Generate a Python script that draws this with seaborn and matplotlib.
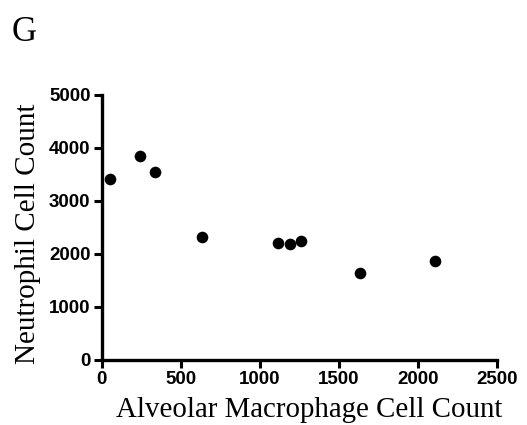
import matplotlib
matplotlib.use("Agg")
import matplotlib.pyplot as plt
import seaborn as sns
import pandas as pd

macrophage = [53, 243, 337, 637, 1113, 1194, 1259, 1637, 2112]
neutrophil = [3420, 3840, 3555, 2315, 2210, 2185, 2250, 1635, 1870]
x_ticks = [0, 500, 1000, 1500, 2000, 2500]
y_ticks = [0, 1000, 2000, 3000, 4000, 5000]

df = pd.DataFrame({"mac": macrophage, "neu": neutrophil})

sns.set_style("ticks")
plt.rcParams['font.family'] = ['Liberation Sans', 'DejaVu Sans']
plt.rcParams['text.color'] = 'black'
plt.rcParams['axes.labelcolor'] = 'black'
plt.rcParams['xtick.color'] = 'black'
plt.rcParams['ytick.color'] = 'black'

fig = plt.figure(figsize=(5.27, 4.25), dpi=100)
ax = fig.add_axes([0.193, 0.153, 0.7495, 0.6235])
sns.scatterplot(data=df, x="mac", y="neu", ax=ax, color="black", s=70,
                edgecolor="black", linewidth=0, clip_on=False, zorder=3)

ax.set_xlim(0, 2500)
ax.set_ylim(0, 5000)
ax.set_xticks(x_ticks)
ax.set_yticks(y_ticks)
ax.set_xticklabels([str(t) for t in x_ticks], fontweight="bold", fontsize=13.5,
                   color="black")
ax.set_yticklabels([str(t) for t in y_ticks], fontweight="bold", fontsize=13.5,
                   color="black")
for side in ["top", "right"]:
    ax.spines[side].set_visible(False)
for side in ["left", "bottom"]:
    ax.spines[side].set_linewidth(2.4)
    ax.spines[side].set_color("black")
ax.tick_params(axis="both", direction="out", length=6, width=2.2, color="black",
               pad=2)
ax.set_xlabel("Alveolar Macrophage Cell Count", family="Liberation Serif",
              fontsize=20.8, labelpad=3, color="black")
ax.set_ylabel("Neutrophil Cell Count", family="Liberation Serif",
              fontsize=21, labelpad=6, color="black")
ax.xaxis.set_label_coords(0.526, -0.14)
ax.yaxis.get_label().set_y(0.475)
fig.text(0.023, 0.903, "G", family="Liberation Serif", fontsize=25, color="black")

fig.savefig("out.png", dpi=100)
